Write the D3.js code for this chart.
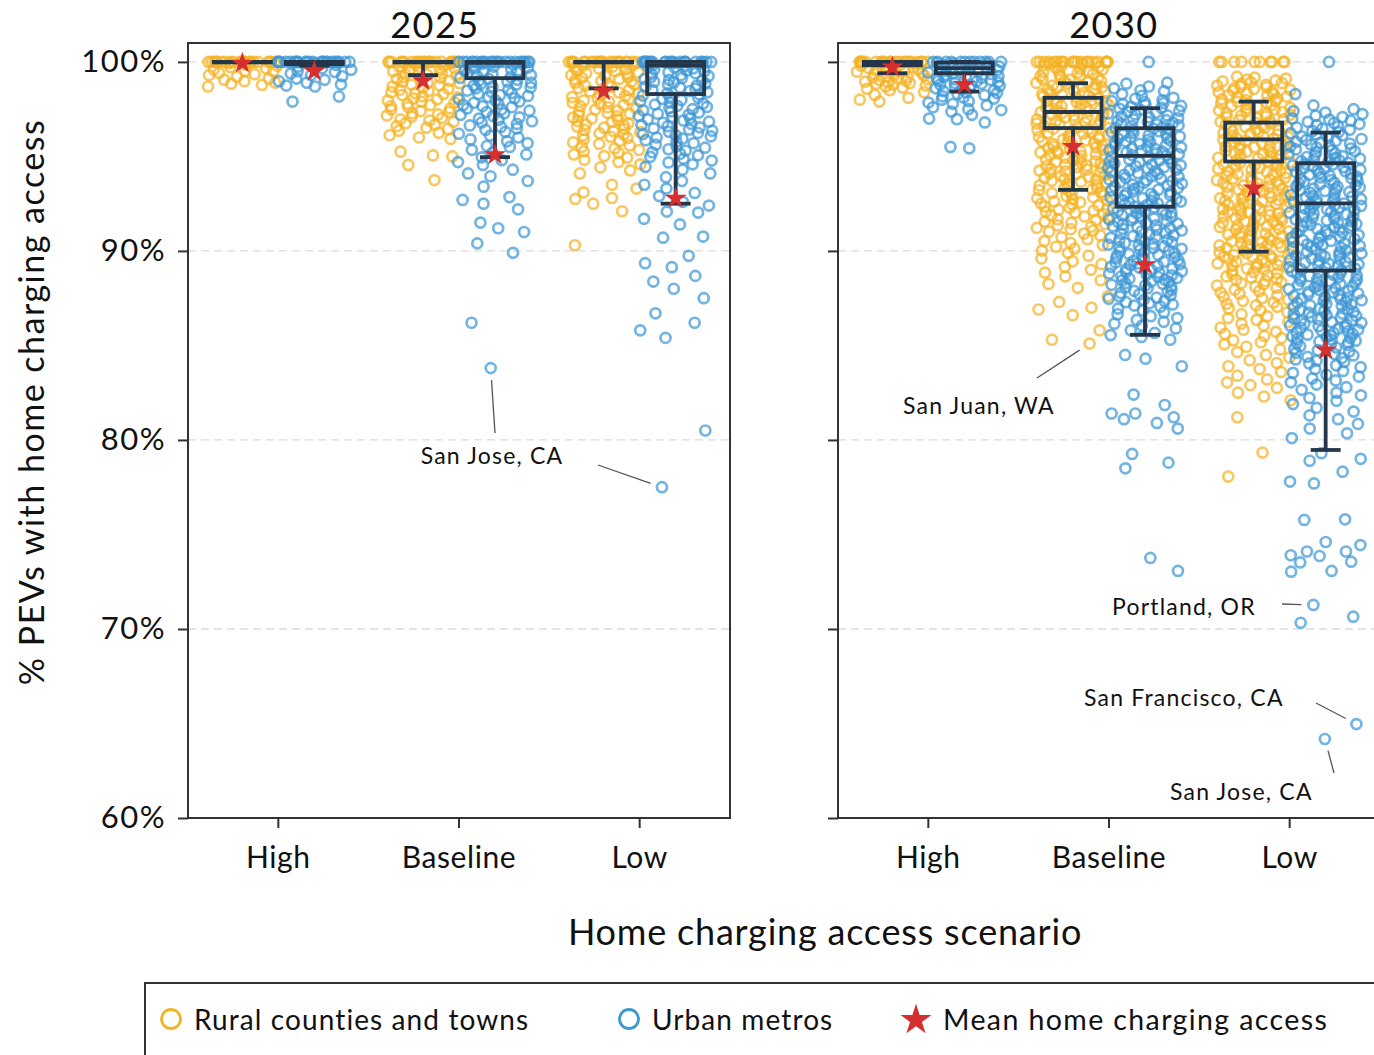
<!DOCTYPE html>
<html>
<head>
<meta charset="utf-8">
<script src="https://cdn.jsdelivr.net/npm/d3@7"></script>
<style>
  body { margin: 0; background: #fff; }
  text { font-family: "Lato", sans-serif; fill: #111; }
</style>
</head>
<body>
<div class="diagram"></div>
<script>
const years = ["2025", "2030"];
const scenarios = ["High", "Baseline", "Low"];
const groups = ["Rural counties and towns", "Urban metros"];
const yTicks = [60, 70, 80, 90, 100];
const gridTicks = [70, 80, 90, 100];

// box stats per scenario: [whisker low, q1, median, q3, whisker high]
const box2025Rural = [[100, 100, 100, 100, 100], [99.3, 99.98, 100, 100, 100], [98.6, 99.98, 100, 100, 100]];
const box2025Urban = [[99.8, 99.88, 100, 100, 100], [94.96, 99.14, 99.95, 100, 100], [92.5, 98.3, 99.8, 100, 100]];
const box2030Rural = [[99.4, 99.82, 99.95, 100, 100], [93.23, 96.5, 97.35, 98.1, 98.87], [89.96, 94.73, 95.9, 96.79, 97.9]];
const box2030Urban = [[98.43, 99.4, 99.67, 99.97, 100], [85.56, 92.34, 95.03, 96.49, 97.55], [79.47, 88.96, 92.52, 94.64, 96.26]];

// mean home charging access per scenario
const mean2025Rural = [99.93, 99.0, 98.45];
const mean2025Urban = [99.5, 95.08, 92.78];
const mean2030Rural = [99.72, 95.52, 93.32];
const mean2030Urban = [98.8, 89.26, 84.76];

// one value per county / metro
const pts2025HighRural = [100,100,100,100,100,100,100,100,100,100,100,100,100,100,100,100,100,100,100,100,100,100,100,100,
  99.93,99.85,99.8,99.72,99.65,99.6,99.52,99.5,99.42,99.35,99.3,99.22,99.12,99.05,98.98,98.9,98.85,98.78,98.7];
const pts2025HighUrban = [100,100,100,100,100,100,100,100,100,100,100,100,100,100,100,100,100,100,100,100,100,100,100,100,
  99.92,99.84,99.75,99.66,99.58,99.5,99.47,99.38,99.3,99.24,99.12,99.05,98.98,98.9,98.8,98.75,98.7,98.17,97.9];
const pts2025BaseRural = [100,100,100,100,100,100,100,100,100,100,100,100,100,100,100,100,100,100,100,100,100,100,
  99.95,99.9,99.86,99.8,99.77,99.72,99.66,99.6,99.55,99.5,99.47,99.4,99.35,99.32,99.27,99.2,99.16,99.1,99.04,99.0,
  98.95,98.9,98.87,98.8,98.76,98.7,98.64,98.58,98.52,98.46,98.4,98.35,98.3,98.25,98.18,98.12,98.07,98.02,
  97.96,97.9,97.85,97.78,97.72,97.66,97.6,97.54,97.48,97.4,97.35,97.28,97.22,97.16,97.1,97.03,
  96.96,96.9,96.83,96.76,96.68,96.6,96.52,96.45,96.36,96.25,96.12,96.0,95.92,95.25,95.05,95.0,94.55,93.75];
const pts2025BaseUrban = [100,100,100,100,100,100,100,100,100,100,100,100,100,100,100,100,100,100,100,100,100,100,
  99.95,99.9,99.86,99.8,99.75,99.7,99.66,99.6,99.55,99.5,99.45,99.4,99.35,99.3,99.25,99.2,99.15,99.1,99.05,99.0,
  98.96,98.9,98.85,98.8,98.75,98.7,98.65,98.6,98.54,98.48,98.42,98.36,98.3,98.25,98.2,98.14,98.08,98.02,
  97.96,97.9,97.84,97.78,97.72,97.66,97.6,97.54,97.48,97.42,97.35,97.28,97.2,97.14,97.07,97.0,
  96.93,96.86,96.8,96.72,96.64,96.56,96.48,96.4,96.3,96.2,96.1,96.0,
  95.9,95.8,95.7,95.55,95.5,95.35,95.2,95.1,94.95,94.8,94.7,94.55,94.3,94.1,93.95,93.7,93.4,
  92.85,92.7,92.5,92.2,91.5,91.2,91.0,90.4,89.9,86.2,83.8];
const pts2025LowRural = [100,100,100,100,100,100,100,100,100,100,100,100,100,100,100,100,100,100,100,100,100,100,
  99.95,99.9,99.85,99.8,99.75,99.7,99.65,99.6,99.55,99.5,99.45,99.4,99.35,99.3,99.25,99.2,99.15,99.1,99.05,99.0,
  98.95,98.9,98.85,98.8,98.74,98.68,98.62,98.56,98.5,98.44,98.38,98.32,98.26,98.2,98.14,98.08,98.02,
  97.96,97.9,97.84,97.78,97.72,97.66,97.6,97.54,97.48,97.42,97.36,97.3,97.24,97.18,97.12,97.06,97.0,
  96.94,96.88,96.82,96.76,96.7,96.64,96.58,96.52,96.46,96.4,96.34,96.28,96.22,96.16,96.1,96.04,
  95.98,95.9,95.82,95.74,95.66,95.58,95.5,95.42,95.34,95.26,95.18,95.1,95.02,
  94.94,94.82,94.7,94.58,94.42,94.26,94.1,93.5,93.3,93.1,92.8,92.75,92.5,92.1,90.3];
const pts2025LowUrban = [100,100,100,100,100,100,100,100,100,100,100,100,100,100,100,100,100,100,100,100,100,100,
  99.95,99.9,99.85,99.8,99.75,99.7,99.65,99.6,99.55,99.5,99.45,99.4,99.35,99.3,99.25,99.2,99.15,99.1,99.05,99.0,
  98.95,98.9,98.85,98.8,98.75,98.7,98.64,98.58,98.52,98.46,98.4,98.34,98.28,98.22,98.16,98.1,98.04,
  97.98,97.92,97.86,97.8,97.74,97.68,97.62,97.56,97.5,97.44,97.38,97.32,97.26,97.2,97.14,97.08,97.02,
  96.96,96.9,96.84,96.78,96.72,96.66,96.6,96.54,96.48,96.42,96.36,96.3,96.24,96.18,96.12,96.06,96.0,
  95.94,95.86,95.78,95.7,95.62,95.54,95.46,95.38,95.3,95.22,95.14,95.06,
  94.98,94.88,94.78,94.68,94.58,94.45,94.3,94.1,93.9,93.7,93.5,93.3,93.07,92.9,92.6,92.4,92.08,92.03,
  91.7,91.4,90.76,90.7,89.74,89.35,89.14,88.68,88.38,88.0,87.5,86.7,86.2,85.8,85.4,80.5,77.5];
const pts2030HighRural = [100,100,100,100,100,100,100,100,100,100,100,100,100,100,100,100,100,100,100,100,100,100,
  99.96,99.92,99.88,99.84,99.8,99.76,99.72,99.68,99.64,99.6,99.56,99.52,99.48,99.44,99.4,99.36,99.32,99.28,99.24,
  99.2,99.16,99.12,99.08,99.04,99.0,
  98.96,98.92,98.88,98.84,98.8,98.75,98.7,98.64,98.58,98.5,98.4,98.25,98.1,98.0,97.9];
const pts2030HighUrban = [100,100,100,100,100,100,100,100,100,100,100,100,
  99.96,99.92,99.88,99.84,99.8,99.76,99.72,99.68,99.64,99.6,99.56,99.52,99.48,99.44,99.4,99.36,99.32,99.28,99.24,
  99.2,99.16,99.12,99.08,99.04,99.0,
  98.96,98.92,98.88,98.84,98.8,98.76,98.72,98.68,98.64,98.6,98.55,98.5,98.45,98.4,98.35,98.3,98.24,98.18,98.12,98.06,98.0,
  97.92,97.85,97.78,97.7,97.6,97.5,97.45,97.37,97.2,97.0,96.97,96.8,95.5,95.43];
const pts2030BaseRural = [100,100,100,100,100,100,100,100,100,100,100,100,100,100,100,100,100,100,100,100,100,100,
  99.96,99.91,99.87,99.82,99.78,99.73,99.69,99.64,99.6,99.55,99.51,99.46,99.42,99.37,99.33,99.28,99.24,99.19,99.15,99.1,99.06,99.01,
  98.98,98.93,98.89,98.84,98.8,98.75,98.71,98.66,98.62,98.57,98.53,98.48,98.44,98.39,98.35,98.3,98.26,98.21,98.17,98.12,98.08,98.03,
  97.97,97.93,97.88,97.84,97.79,97.75,97.7,97.66,97.61,97.57,97.52,97.48,97.43,97.39,97.34,97.3,97.25,97.21,97.16,97.12,97.07,97.03,
  96.96,96.92,96.87,96.83,96.78,96.74,96.69,96.65,96.6,96.56,96.51,96.47,96.42,96.38,96.33,96.29,96.24,96.2,96.15,96.11,96.06,96.02,
  95.98,95.93,95.89,95.84,95.8,95.75,95.71,95.66,95.62,95.57,95.53,95.48,95.44,95.39,95.35,95.3,95.26,95.21,95.17,95.12,95.08,95.03,
  94.97,94.93,94.88,94.84,94.79,94.75,94.7,94.66,94.61,94.57,94.52,94.48,94.43,94.39,94.34,94.3,94.25,94.21,94.16,94.12,94.07,94.03,
  93.96,93.91,93.86,93.81,93.76,93.71,93.66,93.61,93.56,93.51,93.46,93.41,93.36,93.31,93.26,93.21,93.16,93.11,93.06,93.01,
  92.95,92.9,92.84,92.79,92.73,92.68,92.62,92.57,92.51,92.46,92.4,92.35,92.29,92.24,92.18,92.13,92.07,92.02,
  91.95,91.88,91.82,91.75,91.68,91.62,91.55,91.48,91.42,91.35,91.28,91.22,91.15,91.08,91.02,
  90.92,90.82,90.72,90.62,90.52,90.42,90.32,90.22,90.12,90.02,
  89.9,89.75,89.6,89.45,89.3,89.15,89.0,88.85,88.65,88.45,88.25,88.05,
  87.6,87.3,87.0,86.9,86.6,85.8,85.3,85.1];
const pts2030BaseUrban = [100,98.9,98.85,98.7,98.6,98.5,98.45,98.3,98.2,98.1,98.05,
  97.97,97.92,97.87,97.82,97.77,97.72,97.67,97.62,97.57,97.52,97.47,97.42,97.37,97.32,97.27,97.22,97.17,97.12,97.07,97.02,
  96.96,96.92,96.87,96.83,96.78,96.74,96.69,96.65,96.6,96.56,96.51,96.47,96.42,96.38,96.33,96.29,96.24,96.2,96.15,96.11,96.06,96.02,
  95.97,95.93,95.88,95.84,95.79,95.75,95.7,95.66,95.61,95.57,95.52,95.48,95.43,95.39,95.34,95.3,95.25,95.21,95.16,95.12,95.07,95.03,
  94.98,94.93,94.89,94.84,94.8,94.75,94.71,94.66,94.62,94.57,94.53,94.48,94.44,94.39,94.35,94.3,94.26,94.21,94.17,94.12,94.08,94.03,
  93.96,93.92,93.87,93.83,93.78,93.74,93.69,93.65,93.6,93.56,93.51,93.47,93.42,93.38,93.33,93.29,93.24,93.2,93.15,93.11,93.06,93.02,
  92.97,92.93,92.88,92.84,92.79,92.75,92.7,92.66,92.61,92.57,92.52,92.48,92.43,92.39,92.34,92.3,92.25,92.21,92.16,92.12,92.07,92.03,
  91.98,91.93,91.89,91.84,91.8,91.75,91.71,91.66,91.62,91.57,91.53,91.48,91.44,91.39,91.35,91.3,91.26,91.21,91.17,91.12,91.08,91.03,
  90.96,90.92,90.87,90.83,90.78,90.74,90.69,90.65,90.6,90.56,90.51,90.47,90.42,90.38,90.33,90.29,90.24,90.2,90.15,90.11,90.06,90.02,
  89.97,89.93,89.88,89.84,89.79,89.75,89.7,89.66,89.61,89.57,89.52,89.48,89.43,89.39,89.34,89.3,89.25,89.21,89.16,89.12,89.07,89.03,
  88.98,88.93,88.89,88.84,88.8,88.75,88.71,88.66,88.62,88.57,88.53,88.48,88.44,88.39,88.35,88.3,88.26,88.21,88.17,88.12,88.08,88.03,
  87.95,87.89,87.83,87.77,87.71,87.65,87.59,87.53,87.47,87.41,87.35,87.29,87.23,87.17,87.11,87.05,
  86.95,86.85,86.75,86.65,86.55,86.45,86.35,86.25,86.15,86.05,85.9,85.8,85.66,85.55,85.45,85.3,
  84.5,84.3,83.9,82.4,81.85,81.4,81.4,81.2,81.1,80.9,80.6,79.26,78.8,78.5,73.76,73.07];
const pts2030LowRural = [100,100,100,100,100,100,100,100,100,100,
  99.22,99.17,99.12,99.07,99.02,
  98.97,98.93,98.88,98.84,98.79,98.75,98.7,98.66,98.61,98.57,98.52,98.48,98.43,98.39,98.34,98.3,98.25,98.21,98.16,98.12,98.07,98.03,
  97.98,97.93,97.89,97.84,97.8,97.75,97.71,97.66,97.62,97.57,97.53,97.48,97.44,97.39,97.35,97.3,97.26,97.21,97.17,97.12,97.08,97.03,
  96.96,96.92,96.87,96.83,96.78,96.74,96.69,96.65,96.6,96.56,96.51,96.47,96.42,96.38,96.33,96.29,96.24,96.2,96.15,96.11,96.06,96.02,
  95.97,95.93,95.88,95.84,95.79,95.75,95.7,95.66,95.61,95.57,95.52,95.48,95.43,95.39,95.34,95.3,95.25,95.21,95.16,95.12,95.07,95.03,
  94.98,94.93,94.89,94.84,94.8,94.75,94.71,94.66,94.62,94.57,94.53,94.48,94.44,94.39,94.35,94.3,94.26,94.21,94.17,94.12,94.08,94.03,
  93.96,93.92,93.87,93.83,93.78,93.74,93.69,93.65,93.6,93.56,93.51,93.47,93.42,93.38,93.33,93.29,93.24,93.2,93.15,93.11,93.06,93.02,
  92.97,92.93,92.88,92.84,92.79,92.75,92.7,92.66,92.61,92.57,92.52,92.48,92.43,92.39,92.34,92.3,92.25,92.21,92.16,92.12,92.07,92.03,
  91.98,91.93,91.89,91.84,91.8,91.75,91.71,91.66,91.62,91.57,91.53,91.48,91.44,91.39,91.35,91.3,91.26,91.21,91.17,91.12,91.08,91.03,
  90.96,90.92,90.87,90.83,90.78,90.74,90.69,90.65,90.6,90.56,90.51,90.47,90.42,90.38,90.33,90.29,90.24,90.2,90.15,90.11,90.06,90.02,
  89.97,89.93,89.88,89.84,89.79,89.75,89.7,89.66,89.61,89.57,89.52,89.48,89.43,89.39,89.34,89.3,89.25,89.21,89.16,89.12,89.07,89.03,
  88.95,88.89,88.83,88.77,88.71,88.65,88.59,88.53,88.47,88.41,88.35,88.29,88.23,88.17,88.11,88.05,
  87.95,87.87,87.8,87.72,87.65,87.57,87.5,87.42,87.35,87.27,87.2,87.12,87.05,
  86.95,86.85,86.75,86.65,86.55,86.45,86.35,86.25,86.15,86.05,
  85.94,85.83,85.72,85.61,85.5,85.39,85.28,85.17,85.06,84.93,84.79,84.65,84.5,84.36,84.22,84.07,
  83.9,83.75,83.6,83.4,83.2,83.05,82.9,82.75,82.5,82.3,82.1,81.2,79.33,78.06];
const pts2030LowUrban = [100,98.3,97.7,97.5,97.4,97.32,97.24,97.16,97.08,97.0,
  96.95,96.89,96.83,96.77,96.71,96.65,96.59,96.53,96.47,96.41,96.35,96.29,96.23,96.17,96.11,96.05,
  95.97,95.92,95.87,95.82,95.77,95.72,95.67,95.62,95.57,95.52,95.47,95.42,95.37,95.32,95.27,95.22,95.17,95.12,95.07,95.02,
  94.97,94.93,94.88,94.84,94.79,94.75,94.7,94.66,94.61,94.57,94.52,94.48,94.43,94.39,94.34,94.3,94.25,94.21,94.16,94.12,94.07,94.03,
  93.98,93.93,93.89,93.84,93.8,93.75,93.71,93.66,93.62,93.57,93.53,93.48,93.44,93.39,93.35,93.3,93.26,93.21,93.17,93.12,93.08,93.03,
  92.96,92.92,92.87,92.83,92.78,92.74,92.69,92.65,92.6,92.56,92.51,92.47,92.42,92.38,92.33,92.29,92.24,92.2,92.15,92.11,92.06,92.02,
  91.97,91.93,91.88,91.84,91.79,91.75,91.7,91.66,91.61,91.57,91.52,91.48,91.43,91.39,91.34,91.3,91.25,91.21,91.16,91.12,91.07,91.03,
  90.98,90.93,90.89,90.84,90.8,90.75,90.71,90.66,90.62,90.57,90.53,90.48,90.44,90.39,90.35,90.3,90.26,90.21,90.17,90.12,90.08,90.03,
  89.96,89.92,89.87,89.83,89.78,89.74,89.69,89.65,89.6,89.56,89.51,89.47,89.42,89.38,89.33,89.29,89.24,89.2,89.15,89.11,89.06,89.02,
  88.97,88.93,88.88,88.84,88.79,88.75,88.7,88.66,88.61,88.57,88.52,88.48,88.43,88.39,88.34,88.3,88.25,88.21,88.16,88.12,88.07,88.03,
  87.98,87.93,87.89,87.84,87.8,87.75,87.71,87.66,87.62,87.57,87.53,87.48,87.44,87.39,87.35,87.3,87.26,87.21,87.17,87.12,87.08,87.03,
  86.96,86.92,86.87,86.83,86.78,86.74,86.69,86.65,86.6,86.56,86.51,86.47,86.42,86.38,86.33,86.29,86.24,86.2,86.15,86.11,86.06,86.02,
  85.97,85.93,85.88,85.84,85.79,85.75,85.7,85.66,85.61,85.57,85.52,85.48,85.43,85.39,85.34,85.3,85.25,85.21,85.16,85.12,85.07,85.03,
  84.96,84.89,84.82,84.75,84.68,84.61,84.54,84.47,84.4,84.33,84.26,84.19,84.12,84.05,
  83.95,83.85,83.75,83.65,83.55,83.45,83.35,83.25,83.15,83.05,82.93,82.79,82.65,82.5,82.36,82.22,82.07,
  81.9,81.7,81.5,81.3,81.1,80.85,80.6,80.35,80.1,79.3,79.0,78.9,78.32,77.8,77.7,
  75.8,75.77,74.6,74.44,74.1,74.1,73.9,73.86,73.56,73.52,73.07,73.03,71.27,70.65,70.33,64.18,64.97];

const ruralColor = "#f4b324", urbanColor = "#3d97d5", boxColor = "#24364a", starColor = "#d62f2f";

const panels = [
  { year: years[0], left: 188, titleX: 435,
    pts: [[pts2025HighRural, pts2025BaseRural, pts2025LowRural], [pts2025HighUrban, pts2025BaseUrban, pts2025LowUrban]],
    box: [box2025Rural, box2025Urban], mean: [mean2025Rural, mean2025Urban],
    phase: [[0.1, 0.7, 0.2], [0.3, 0.5, 0.22]] },
  { year: years[1], left: 838, titleX: 1114,
    pts: [[pts2030HighRural, pts2030BaseRural, pts2030LowRural], [pts2030HighUrban, pts2030BaseUrban, pts2030LowUrban]],
    box: [box2030Rural, box2030Urban], mean: [mean2030Rural, mean2030Urban],
    phase: [[0.4, 0.64, 0.1], [0.6, 0.9, 0.92]] }
];

const plotTop = 43, plotBottom = 818, panelW = 542;

const svg = d3.select(".diagram").append("svg")
  .attr("width", 1374).attr("height", 1055);

const y = d3.scaleLinear().domain([60, 101]).range([plotBottom, plotTop]);
const x = d3.scaleBand().domain(scenarios).range([0, panelW]);
const xg = d3.scaleBand().domain(groups).range([0, x.bandwidth()]).paddingOuter(0.255);

// deterministic strip jitter (golden-ratio spread, counted from the lowest value, with a little noise)
function hash(k, s) {
  const t = Math.sin(k * 12.9898 + s * 78.233) * 43758.5453;
  return t - Math.floor(t);
}
function pointX(p, s, g, i) {
  const n = panels[p].pts[g][s].length, k = n - 1 - i;
  let u = (panels[p].phase[g][s] + k * 0.618034) % 1;
  u += 0.2 * (hash(k, p * 6 + s * 2 + g + 1) - 0.5);
  if (u > 1) u = 2 - u;
  if (u < 0) u = -u;
  const cx = x(scenarios[s]) + xg(groups[g]) + xg.bandwidth() / 2;
  return panels[p].left + cx + (u - 0.5) * 74;
}

panels.forEach((pn, p) => {
  // grid
  svg.append("g").selectAll("line").data(gridTicks).join("line")
    .attr("x1", pn.left).attr("x2", pn.left + panelW)
    .attr("y1", d => y(d)).attr("y2", d => y(d))
    .attr("stroke", "#dcdcdc").attr("stroke-width", 1.3)
    .attr("stroke-dasharray", "8,5");

  // points
  [0, 1].forEach(gi => {
    scenarios.forEach((sc, si) => {
      svg.append("g").selectAll("circle").data(pn.pts[gi][si]).join("circle")
        .attr("cx", (d, i) => pointX(p, si, gi, i))
        .attr("cy", d => y(d))
        .attr("r", 5)
        .attr("fill", "none")
        .attr("stroke", gi === 0 ? ruralColor : urbanColor)
        .attr("stroke-width", 2.7)
        .attr("stroke-opacity", 0.72);
    });
  });

  // boxes and means
  [0, 1].forEach(gi => {
    scenarios.forEach((sc, si) => {
      const [wlo, q1, med, q3, whi] = pn.box[gi][si];
      const cx = pn.left + x(sc) + xg(groups[gi]) + xg.bandwidth() / 2;
      const bw = 57, cw = 30;
      const b = svg.append("g").attr("stroke", boxColor).attr("stroke-width", 3.8).attr("fill", "none");
      b.append("line").attr("x1", cx).attr("x2", cx).attr("y1", y(q3)).attr("y2", y(whi));
      b.append("line").attr("x1", cx).attr("x2", cx).attr("y1", y(q1)).attr("y2", y(wlo));
      b.append("line").attr("x1", cx - cw / 2).attr("x2", cx + cw / 2).attr("y1", y(whi)).attr("y2", y(whi));
      b.append("line").attr("x1", cx - cw / 2).attr("x2", cx + cw / 2).attr("y1", y(wlo)).attr("y2", y(wlo));
      b.append("rect").attr("x", cx - bw / 2).attr("width", bw)
        .attr("y", y(q3)).attr("height", Math.max(0.5, y(q1) - y(q3)));
      b.append("line").attr("x1", cx - bw / 2).attr("x2", cx + bw / 2).attr("y1", y(med)).attr("y2", y(med));
      svg.append("path")
        .attr("d", d3.symbol(d3.symbolStar, 150)())
        .attr("transform", `translate(${cx},${y(pn.mean[gi][si])})`)
        .attr("fill", starColor);
    });
  });

  // frame
  svg.append("rect").attr("x", pn.left).attr("y", plotTop).attr("width", panelW).attr("height", plotBottom - plotTop)
    .attr("fill", "none").attr("stroke", "#333").attr("stroke-width", 2);

  // y axis
  const ya = svg.append("g").attr("transform", `translate(${pn.left},0)`)
    .call(d3.axisLeft(y).tickValues(yTicks).tickSize(10).tickPadding(12)
      .tickFormat(p === 0 ? d => d + "%" : ""));
  ya.select(".domain").remove();
  ya.selectAll("line").attr("stroke", "#333").attr("stroke-width", 2);
  ya.selectAll("text").style("font-size", "31px").style("font-family", "Lato")
    .style("letter-spacing", "1.5px").attr("fill", "#111");

  // x axis
  const xa = svg.append("g").attr("transform", `translate(${pn.left},${plotBottom})`)
    .call(d3.axisBottom(x).tickSize(10).tickPadding(19));
  xa.select(".domain").remove();
  xa.selectAll("line").attr("stroke", "#333").attr("stroke-width", 2);
  xa.selectAll("text").style("font-size", "30px").style("font-family", "Lato")
    .style("letter-spacing", "0.6px").attr("fill", "#111");

  // title
  svg.append("text").attr("x", pn.titleX).attr("y", 38).attr("text-anchor", "middle")
    .style("font-size", "36px").style("letter-spacing", "1.5px").text(pn.year);
});

// axis titles
svg.append("text").attr("transform", "translate(44,402) rotate(-90)")
  .attr("text-anchor", "middle").style("font-size", "34px").style("letter-spacing", "1.5px")
  .text("% PEVs with home charging access");
svg.append("text").attr("x", 825).attr("y", 945).attr("text-anchor", "middle")
  .style("font-size", "36px").style("letter-spacing", "0.8px").text("Home charging access scenario");

// annotations
function pointPos(p, s, gi, v) {
  const i = panels[p].pts[gi][s].indexOf(v);
  return [pointX(p, s, gi, i), y(v)];
}
function leader(start, target) {
  const dx = target[0] - start[0], dy = target[1] - start[1];
  const len = Math.hypot(dx, dy), gap = 12;
  svg.append("line").attr("x1", start[0]).attr("y1", start[1])
    .attr("x2", target[0] - dx / len * gap).attr("y2", target[1] - dy / len * gap)
    .attr("stroke", "#555").attr("stroke-width", 1.3);
}
function note(xp, yp, label, anchor) {
  svg.append("text").attr("x", xp).attr("y", yp).attr("text-anchor", anchor || "start")
    .style("font-size", "23px").style("letter-spacing", "1.2px").text(label);
}
note(492, 464, "San Jose, CA", "middle");
leader([495, 433], pointPos(0, 1, 1, 83.8));
leader([598, 465], pointPos(0, 2, 1, 77.5));
note(903, 414, "San Juan, WA");
leader([1037, 378], pointPos(1, 1, 0, 85.1));
note(1112, 615, "Portland, OR");
leader([1282, 604], pointPos(1, 2, 1, 71.27));
note(1084, 706, "San Francisco, CA");
leader([1316, 703], pointPos(1, 2, 1, 64.97));
note(1170, 800, "San Jose, CA");
leader([1334, 773], pointPos(1, 2, 1, 64.18));

// legend
const lg = svg.append("g");
lg.append("rect").attr("x", 145).attr("y", 983).attr("width", 1300).attr("height", 120)
  .attr("fill", "none").attr("stroke", "#333").attr("stroke-width", 2);
lg.append("circle").attr("cx", 171).attr("cy", 1019).attr("r", 9.5)
  .attr("fill", "none").attr("stroke", ruralColor).attr("stroke-width", 2.8);
lg.append("text").attr("x", 194).attr("y", 1030).style("font-size", "28px").style("letter-spacing", "1.1px").text(groups[0]);
lg.append("circle").attr("cx", 629).attr("cy", 1019).attr("r", 9.5)
  .attr("fill", "none").attr("stroke", urbanColor).attr("stroke-width", 2.8);
lg.append("text").attr("x", 652).attr("y", 1030).style("font-size", "28px").style("letter-spacing", "1.1px").text(groups[1]);
lg.append("path").attr("d", d3.symbol(d3.symbolStar, 300)())
  .attr("transform", "translate(916,1020)").attr("fill", starColor);
lg.append("text").attr("x", 943).attr("y", 1030).style("font-size", "28.5px").style("letter-spacing", "1.4px").text("Mean home charging access");
</script>
</body>
</html>
